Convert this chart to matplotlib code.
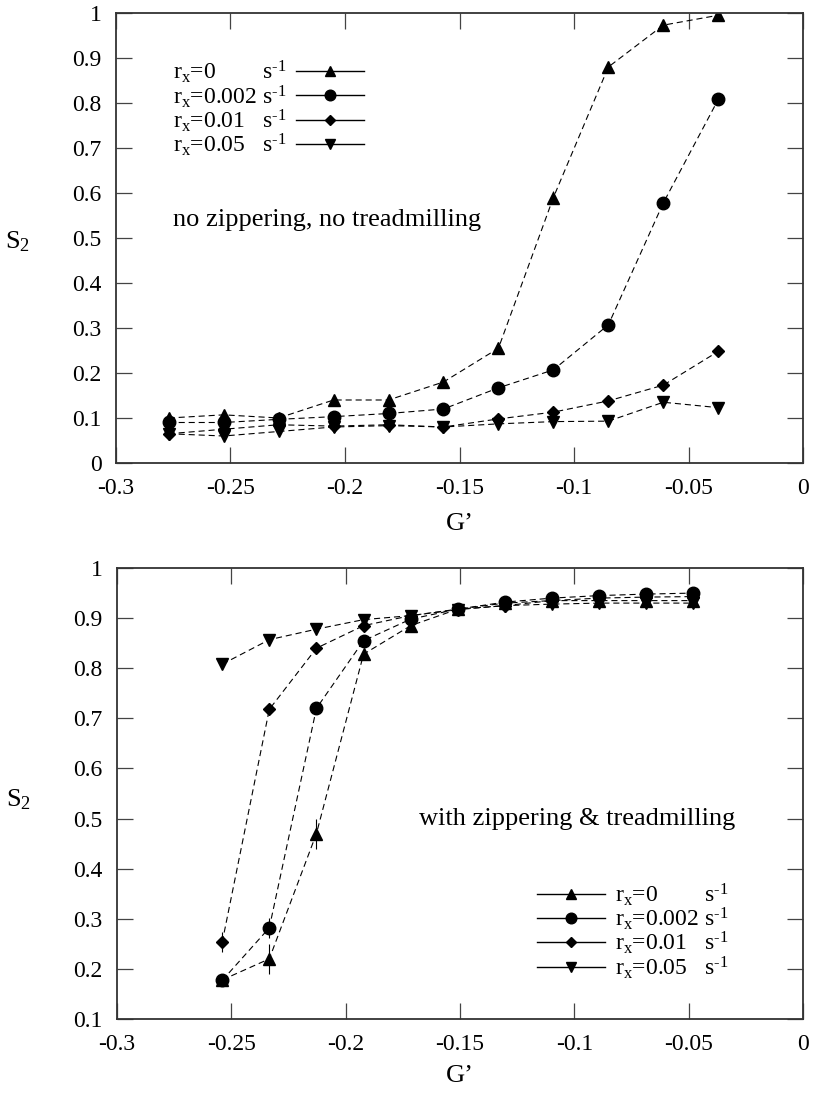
import matplotlib
matplotlib.use("Agg")
import matplotlib.pyplot as plt

plt.rcParams['font.family'] = ['Liberation Serif', 'DejaVu Serif']
plt.rcParams['mathtext.fontset'] = 'custom'
plt.rcParams['mathtext.rm'] = 'Liberation Serif'
plt.rcParams['mathtext.default'] = 'regular'

# top panel: no zippering, no treadmilling
g_top = [-0.277, -0.253, -0.229, -0.205, -0.181, -0.157, -0.133, -0.109, -0.085, -0.061, -0.037]
s2_top_r0 = [0.100, 0.107, 0.100, 0.140, 0.140, 0.180, 0.255, 0.590, 0.880, 0.973, 0.995]
s2_top_r002 = [0.090, 0.090, 0.097, 0.103, 0.110, 0.120, 0.167, 0.207, 0.307, 0.578, 0.808]
s2_top_r01 = [0.065, 0.075, 0.085, 0.082, 0.085, 0.080, 0.098, 0.113, 0.138, 0.173, 0.248]
s2_top_r05 = [0.065, 0.060, 0.070, 0.080, 0.083, 0.080, 0.087, 0.092, 0.093, 0.135, 0.123]
err_top_r0 = [0, 0, 0, 0, 0, 0.012, 0.012, 0.015, 0, 0, 0]
err_top_r002 = [0, 0, 0, 0, 0, 0, 0, 0, 0.012, 0, 0]

# bottom panel: with zippering & treadmilling
g_bot = [-0.254, -0.2334, -0.2128, -0.1922, -0.1716, -0.151, -0.1304, -0.1098, -0.0892, -0.0686, -0.048]
s2_bot_r0 = [0.178, 0.220, 0.470, 0.828, 0.885, 0.918, 0.930, 0.935, 0.935, 0.935, 0.935]
s2_bot_r002 = [0.177, 0.282, 0.720, 0.855, 0.898, 0.918, 0.932, 0.940, 0.945, 0.948, 0.950]
s2_bot_r01 = [0.253, 0.718, 0.840, 0.885, 0.905, 0.918, 0.925, 0.935, 0.940, 0.942, 0.943]
s2_bot_r05 = [0.808, 0.857, 0.878, 0.897, 0.905, 0.917, 0.925, 0.928, 0.930, 0.930, 0.930]
err_bot_r0 = [0.01, 0.03, 0.03, 0, 0, 0, 0, 0, 0, 0, 0]
err_bot_r002 = [0.01, 0.02, 0, 0, 0, 0, 0, 0, 0, 0, 0]
err_bot_r01 = [0.02, 0, 0, 0, 0, 0, 0, 0, 0, 0, 0]

SUP = 's$^{\u20101}$'
labels = ['r$_{x}$=0' + ' ' * 7 + ' ' + SUP,
          'r$_{x}$=0.002 ' + SUP,
          'r$_{x}$=0.01' + ' ' * 2 + ' ' + SUP,
          'r$_{x}$=0.05' + ' ' * 2 + ' ' + SUP]
markers = ['^', 'o', 'D', 'v']
msizes = [8, 9, 6, 8]

FS = 17      # ticks, legend
NOTE_FS = 19  # panel notes
LFS = 19     # axis labels
dash = (0, (5.5, 3.5))


def draw_panel(ax, g, series, errs, ylim, yticks):
    handles = []
    for s, e, m, ms in zip(series, errs, markers, msizes):
        ax.errorbar(g, s, yerr=e, fmt='none', ecolor='black', elinewidth=0.8, capsize=0)
        ax.plot(g, s, linestyle=dash, color='black', linewidth=0.8,
                marker=m, markersize=ms, markerfacecolor='black', markeredgecolor='black')
        h, = ax.plot([], [], linestyle='-', color='black', linewidth=1.0,
                     marker=m, markersize=ms * 0.85, markerfacecolor='black')
        handles.append(h)
    ax.set_xlim(-0.3, 0)
    ax.set_ylim(*ylim)
    ax.set_xticks([-0.3, -0.25, -0.2, -0.15, -0.1, -0.05, 0])
    ax.set_xticklabels(['-0.3', '-0.25', '-0.2', '-0.15', '-0.1', '-0.05', '0'])
    ax.set_yticks(yticks)
    ax.set_yticklabels(['%g' % v for v in yticks])
    ax.tick_params(direction='in', length=11.5, width=0.9, top=True, right=True,
                   labelsize=FS, pad=10.5, color='#444444')
    for sp in ax.spines.values():
        sp.set_linewidth(1.3)
        sp.set_color('#333333')
    ax.set_xlabel("G\u2019", fontsize=LFS)
    ax.set_ylabel('S$_2$', fontsize=LFS, rotation=0, ha='center', va='center')
    return handles


fig = plt.figure(figsize=(8.14, 10.93), dpi=100)
ax1 = fig.add_axes([0.1425, 0.5764, 0.844, 0.4117])
ax2 = fig.add_axes([0.1437, 0.0677, 0.843, 0.4126])

h1 = draw_panel(ax1, g_top, [s2_top_r0, s2_top_r002, s2_top_r01, s2_top_r05],
                [err_top_r0, err_top_r002, [0] * 11, [0] * 11],
                (0, 1), [0, 0.1, 0.2, 0.3, 0.4, 0.5, 0.6, 0.7, 0.8, 0.9, 1])
ax1.xaxis.set_label_coords(0.5, -0.112)
ax1.yaxis.set_label_coords(-0.143, 0.491)
ax1.text(-0.208, 0.54, 'no zippering, no treadmilling', fontsize=NOTE_FS, ha='center', va='center')
ax1.legend(h1, labels, loc='upper left', bbox_to_anchor=(0.083, 0.898), frameon=False,
           fontsize=FS, markerfirst=False, handlelength=2.9, handletextpad=0.4,
           labelspacing=-0.1, borderpad=0, borderaxespad=0)

h2 = draw_panel(ax2, g_bot, [s2_bot_r0, s2_bot_r002, s2_bot_r01, s2_bot_r05],
                [err_bot_r0, err_bot_r002, err_bot_r01, [0] * 11],
                (0.1, 1), [0.1, 0.2, 0.3, 0.4, 0.5, 0.6, 0.7, 0.8, 0.9, 1])
ax2.xaxis.set_label_coords(0.5, -0.102)
ax2.yaxis.set_label_coords(-0.143, 0.486)
ax2.text(-0.099, 0.5, 'with zippering & treadmilling', fontsize=NOTE_FS, ha='center', va='center')
ax2.legend(h2, labels, loc='upper left', bbox_to_anchor=(0.612, 0.3045), frameon=False,
           fontsize=FS, markerfirst=True, handlelength=2.9, handletextpad=0.4,
           labelspacing=-0.1, borderpad=0, borderaxespad=0)

fig.savefig('out.png', dpi=100)
